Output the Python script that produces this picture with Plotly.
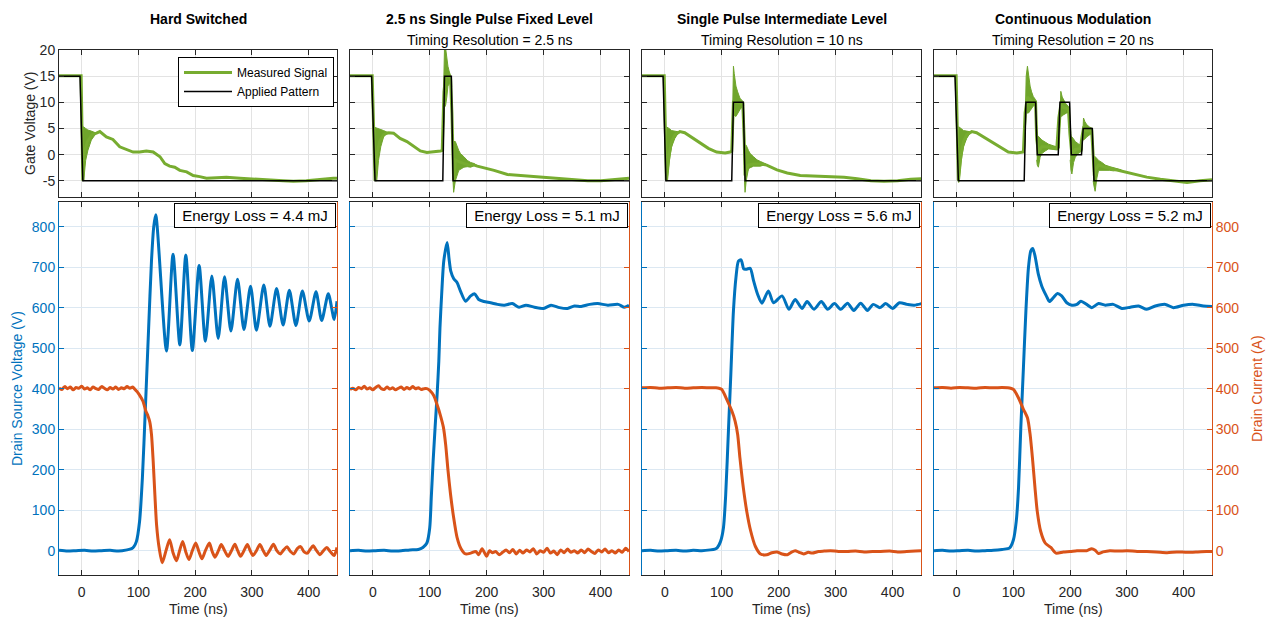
import plotly.graph_objects as go

W, H = 1275, 620
BLUE = '#0072BD'
ORANGE = '#D95319'
GREEN = '#77AC30'
GREEN_BAND = '#6FA52B'
DARK = '#262626'
GRID = '#e3e3e3'
GRID_B = '#dce8f2'
FONT = 'Liberation Sans, Arial, Helvetica, sans-serif'

# ---------------- axis settings / labels ----------------
time_range = [-40, 450]
gate_range = [-8, 20]
bottom_range = [-60, 860]
time_ticks = [0, 100, 200, 300, 400]
gate_ticks = [-5, 0, 5, 10, 15, 20]
gate_tick_labels = ['-5', '0', '5', '10', '15', '20']
bottom_ticks = [0, 100, 200, 300, 400, 500, 600, 700, 800]

titles = ['Hard Switched', '2.5 ns Single Pulse Fixed Level',
          'Single Pulse Intermediate Level', 'Continuous Modulation']
subtitles = ['', 'Timing Resolution = 2.5 ns', 'Timing Resolution = 10 ns',
             'Timing Resolution = 20 ns']
energy_loss = [4.4, 5.1, 5.6, 5.2]

# ---------------- gate voltage: applied pattern ----------------
app1_t = [-40, -3, 2, 450]
app1_v = [15, 15, -5, -5]
app2_t = [-40, -2, 4, 123, 126, 138, 141, 450]
app2_v = [15, 15, -5, -5, 15, 15, -5, -5]
app3_t = [-40, -3, 2, 117.6, 120.6, 138, 141, 450]
app3_v = [15, 15, -5, -5, 10, 10, -5, -5]
app4_t = [-40, -3, 3, 119, 122, 139, 142, 179, 182, 199, 202, 220, 223, 239, 242, 450]
app4_v = [15, 15, -5, -5, 10, 10, 0, 0, 10, 10, 0, 0, 5, 5, -5, -5]

# ---------------- gate voltage: measured signal ----------------
meas1_t = [-40, -20, -1, 2, 3.5, 10, 18, 26, 32, 43.5, 55, 67, 79, 90.6, 102, 114, 126, 138,
           146.5, 155, 164, 173, 185, 196.5, 208, 220, 238, 255, 279, 302, 326, 355, 373, 396,
           420, 443.5, 450]
meas1_v = [15.1, 15.1, 15.1, -5, 0, 2.5, 3.8, 4.1, 4.4, 3.4, 2.9, 1.5, 1.0, 0.5, 0.5, 0.7, 0.5,
           -0.4, -1.7, -2.2, -2.4, -3.0, -3.3, -4.0, -4.2, -4.5, -4.4, -4.3, -4.5, -4.6, -4.8,
           -5.0, -5.1, -5.0, -4.7, -4.5, -4.5]
meas2_t = [-40, -20, -1, 4, 7, 12, 19, 25, 28, 36.5, 48, 60, 72, 83.5, 95, 107, 119, 122,
           125, 128, 132, 136.5, 139, 142, 145, 150, 156, 163, 170, 178, 183.5, 195, 213,
           236.5, 260, 283.5, 307, 330.6, 354, 377.6, 401, 425, 450]
meas2_v = [15.1, 15.1, 15.1, -5, 0, 2.5, 3.8, 4.1, 4.2, 4.1, 3.1, 2.5, 1.5, 0.7, 0.4, 0.5, 0.7,
           0.8, 12, 15, 15, 14.5, 8, -5, -1, -1.3, -1.6, -1.8, -2.0, -2.0, -2.2, -2.5, -3.0,
           -3.8, -4.0, -4.2, -4.3, -4.6, -4.8, -5.0, -5.0, -4.7, -4.5]
meas3_t = [-40, -20, -1, 3, 7.6, 12, 17.6, 23.5, 26.5, 35, 47, 62, 76.5, 91, 106, 114.7,
           117.6, 120.6, 125, 132, 137, 139.5, 141, 147, 156, 168, 179, 197, 215, 238, 268,
           291, 315, 338, 362, 385, 409, 432, 451]
meas3_v = [15.1, 15.1, 15.1, -5, 0, 2.5, 3.8, 4.2, 4.4, 4.2, 3.3, 2.3, 1.2, 0.5, 0.3, 0.5,
           0.7, 10, 10, 9.8, 9.7, 3, -4, -2, -1.8, -1.8, -2.0, -2.9, -3.5, -4.0, -4.1, -4.2,
           -4.3, -4.6, -5.0, -5.1, -5.0, -4.7, -4.6]
meas4_t = [-40, -20, -1, 3, 7.6, 12, 17.6, 23.5, 26.5, 35, 47, 62, 76.5, 91, 106, 117.6,
           120.6, 124.7, 129.4, 135, 139, 141, 144, 150, 162, 176.5, 180, 183.5, 188, 197,
           199.5, 201.5, 203, 209, 218, 221, 223.5, 229.4, 238, 240.5, 242.5, 244, 250, 262,
           276.5, 288, 312, 335, 359, 382, 406, 429, 450]
meas4_v = [15.1, 15.1, 15.1, -5, 0, 2.5, 3.8, 4.2, 4.4, 4.2, 3.4, 2.5, 1.4, 0.5, 0.3, 0.5,
           8, 11, 10.5, 10, 10, 3, 0.5, 1.5, 1.5, 1.2, 7, 9.5, 9, 8.7, 4, 0.5, 0, 1, 1.2, 3.5,
           5, 4.5, 4.5, 0, -4, -3, -2, -2.4, -2.8, -3.0, -3.7, -4.3, -4.7, -5.0, -5.3, -5.0,
           -4.8]

# ---------------- gate ringing envelopes (upper / lower) ----------------
ring1a_t = [2, 3.5, 7, 11, 17, 23, 26]
ring1a_hi = [5.3, 5.3, 5.0, 4.7, 4.5, 4.3, 4.1]
ring1a_lo = [-5, -5, -1.1, 0.85, 2.8, 3.7, 4.1]

ring2a_t = [4, 7, 10, 14, 19, 25, 28]
ring2a_hi = [5.2, 5.1, 5.0, 4.8, 4.6, 4.3, 4.2]
ring2a_lo = [-5, -5, -1.1, 1.5, 3.4, 4.1, 4.2]
ring2b_t = [122, 124, 126, 128, 130, 132, 134, 136.5, 138.5]
ring2b_hi = [0.8, 12, 20.5, 20.3, 18, 16.9, 16, 15.3, 14.5]
ring2b_lo = [0.8, 5, 9, 9.5, 11, 13.1, 13.5, 13.7, 13]
ring2c_t = [141, 142, 145, 151, 154, 160, 166, 172, 178, 182]
ring2c_hi = [2.5, 2.5, 2.5, 0.8, 0.2, -0.4, -1.1, -1.5, -1.7, -2.0]
ring2c_lo = [-5, -7.2, -5, -3, -2.7, -2.4, -2.3, -2.4, -2.1, -2.0]

ring3a_t = [3, 4, 7.6, 12, 17.6, 23.5, 26.5]
ring3a_hi = [5.3, 5.2, 5.0, 4.6, 4.5, 4.3, 4.3]
ring3a_lo = [-5, -5, -1.4, 1.5, 3.1, 4.1, 4.3]
ring3b_t = [118, 119.5, 120.6, 122, 125, 128, 132, 137, 138.5]
ring3b_hi = [0.7, 12, 16.9, 15.5, 13.1, 12, 10.8, 10.2, 10]
ring3b_lo = [0.7, 5, 7.9, 7.5, 7.3, 7.8, 8.6, 9.3, 9.3]
ring3c_t = [140, 141, 143, 147, 150, 156, 162, 168, 173.5, 178]
ring3c_hi = [1.8, 1.8, 1.8, 0.8, 0.2, -0.4, -1.0, -1.3, -1.6, -1.8]
ring3c_lo = [-5, -7.2, -5, -2.7, -2.5, -2.2, -2.2, -2.2, -2.0, -1.8]

ring4a_t = [3, 4, 7.6, 12, 17.6, 23.5, 26.5]
ring4a_hi = [5.3, 5.3, 5.0, 4.6, 4.5, 4.3, 4.3]
ring4a_lo = [-5.3, -5.3, -1.4, 1.5, 3.1, 4.1, 4.3]
ring4b_t = [119.5, 121, 122.5, 124.7, 127, 129.4, 132, 135, 139, 140]
ring4b_hi = [0.5, 10, 15, 16.9, 14.5, 13.1, 12, 11.1, 10.5, 10.3]
ring4b_lo = [0.5, 5, 7.9, 7.9, 8, 8.4, 8.9, 9.3, 9.5, 9.5]
ring4c_t = [141, 142, 144, 147, 150, 156, 162, 170, 176.5, 179.5]
ring4c_hi = [3.7, 3.7, 3.5, 3.2, 2.8, 2.4, 2.0, 1.7, 1.5, 1.4]
ring4c_lo = [-1, -2, -2.4, -0.5, 0.2, 0.7, 1.1, 1.0, 0.9, 1.0]
ring4d_t = [180.5, 182, 183.5, 186, 188, 192, 197, 199]
ring4d_hi = [1.2, 9, 12.1, 11, 10.5, 9.8, 9.2, 9]
ring4d_lo = [1.2, 5, 7.3, 7.4, 7.6, 7.9, 8.2, 8.3]
ring4e_t = [200, 201.5, 203, 206, 209, 214, 218, 220.5]
ring4e_hi = [3.4, 3.4, 3.4, 3.0, 2.5, 2.1, 1.8, 1.8]
ring4e_lo = [-1, -3, -3.7, -1.5, -0.5, 0.2, 0.5, 0.5]
ring4f_t = [221, 222, 223.5, 226, 229.4, 234, 238, 239.5]
ring4f_hi = [0.8, 5, 7.0, 6.3, 5.7, 5.3, 5.0, 5.0]
ring4f_lo = [0.8, 2.7, 2.7, 3.0, 3.4, 3.8, 4.1, 4.2]
ring4g_t = [240.5, 242, 244, 247, 250, 256, 262, 270, 276.5, 284, 290]
ring4g_hi = [-0.4, -0.4, -0.4, -0.7, -1.1, -1.5, -2.0, -2.3, -2.5, -2.7, -2.9]
ring4g_lo = [-5, -6, -7.0, -4.5, -3.0, -3.0, -3.0, -3.0, -3.1, -3.0, -2.9]

# ---------------- drain-source voltage ----------------
vds1_t = [-40, -25, -10, 5, 20, 35, 50, 65, 80, 88, 92, 96.5, 102, 107, 112, 118, 123, 127,
          130.6, 149.4, 161, 173, 183.5, 195, 207, 218, 229.4, 240.6, 251.8, 263, 274.7, 286,
          297.6, 308, 321, 331.8, 343.5, 355, 366, 377.6, 389, 401, 413, 423, 434.7, 445, 450]
vds1_v = [1, -1, 0, 1, -1, 0, 1, -1, 2, 5, 10, 23, 72, 180, 344, 550, 715, 800, 829, 493, 732,
          508, 730, 494, 704, 517, 678, 524, 676, 542, 670, 546, 653, 544, 656, 554, 647, 557,
          643, 556, 641, 567, 639, 568, 634, 571, 616]
vds2_t = [-40, -25, -10, 5, 20, 35, 50, 65, 80, 88, 95, 100, 103, 106, 109.4, 113, 116, 118,
          121, 124.7, 130.6, 134, 137, 142, 148, 154, 163, 172, 179, 186, 195, 207, 219, 231,
          245, 257, 269, 284, 300, 313, 328, 342, 354, 366, 381, 395, 413, 431, 442, 450]
vds2_v = [0, 1, -1, 0, 1, -1, 0, 2, 3, 8, 19, 56, 138, 221, 303, 386, 468, 550, 633, 715, 761,
          720, 690, 672, 662, 641, 616, 629, 634, 620, 615, 612, 608, 606, 610, 601, 606, 601,
          598, 606, 600, 598, 604, 603, 608, 610, 606, 608, 601, 606]
vds3_t = [-40, -25, -10, 5, 20, 35, 50, 65, 80, 88, 92, 98, 103, 107, 112, 116, 120.6, 125,
          129.4, 134, 139, 144, 150, 156, 163, 170.6, 182, 191, 206, 218, 229, 241, 250, 262,
          275, 286, 298, 309, 321, 332, 344, 356, 366, 378, 388, 400, 412, 426, 438, 451]
vds3_v = [0, 1, -1, 0, 1, -1, 1, 0, 2, 4, 7, 23, 56, 138, 303, 435, 592, 674, 715, 718, 695,
          695, 697, 666, 633, 611, 641, 612, 629, 596, 620, 598, 615, 596, 615, 596, 610, 596,
          611, 593, 611, 593, 608, 600, 610, 598, 612, 608, 606, 610]
vds4_t = [-40, -25, -10, 5, 20, 35, 50, 65, 80, 90, 94, 100, 105, 109, 113, 117.6, 122, 126.5,
          130.6, 134, 138, 144, 150, 158, 163.5, 170.6, 177.6, 185, 194, 203, 212, 219, 229,
          238, 250, 262, 276, 291, 306, 320.6, 335, 350, 368, 382, 400, 418, 435, 450]
vds4_v = [0, 1, -1, 0, 1, -1, 0, 1, 3, 5, 8, 27, 73, 155, 303, 451, 592, 699, 740, 746, 728,
          682, 653, 629, 615, 625, 635, 629, 612, 606, 608, 616, 608, 600, 610, 606, 608, 598,
          601, 604, 596, 604, 608, 600, 606, 608, 604, 603]

# ---------------- drain current ----------------
id1_t = [-40, -35, -30, -25, -20, -15, -10, -5, 0, 5, 10, 15, 20, 25, 30, 35, 40, 45, 50, 55,
         60, 65, 70, 75, 80, 85, 90, 94, 98, 102, 108, 113, 117, 120, 123, 126, 129, 132,
         136.5, 142, 149, 155, 161, 167, 172.5, 178, 183.5, 189, 195, 201, 206.5, 212, 218,
         225, 230, 235, 241, 246, 252, 258, 264, 270, 275, 280, 286, 292, 297, 302, 308, 314,
         320, 325, 331, 338, 344, 350, 356, 362, 368, 374, 380, 386, 392, 398, 403, 408, 414,
         420, 426, 432, 438, 445, 450]
id1_v = [402, 398, 405, 400, 404, 397, 403, 401, 406, 399, 402, 397, 404, 400, 398, 405, 401,
         397, 403, 399, 404, 398, 402, 400, 405, 401, 404, 398, 392, 384, 369, 345, 332, 318,
         287, 221, 138, 64, 7, -30, 2, 27, -5, -25, 0, 23, -3, -22, 0, 19, -2, -20, 0, 19, -2,
         -16, 0, 15, 0, -14, 0, 16, 0, -14, 0, 15, 0, -12, 0, 15, 0, -12, 0, 16, 0, -8, 2, 10,
         -2, -8, 5, 10, -3, -6, 4, 12, 0, -10, 0, 8, -2, -12, 8]
id2_t = [-40, -35, -30, -25, -20, -15, -10, -5, 0, 5, 10, 15, 20, 25, 30, 35, 40, 45, 50, 55,
         60, 65, 70, 75, 80, 85, 90, 95, 100, 107, 113, 119, 124, 128, 132, 136.5, 142, 148,
         155, 163, 172, 181, 186, 192, 200, 205, 210, 216, 222, 228, 234, 240, 246, 252, 258,
         264, 270, 276, 282, 288, 294, 300, 306, 312, 318, 324, 330, 336, 342, 348, 354, 360,
         366, 372, 378, 384, 390, 396, 402, 408, 414, 420, 426, 432, 438, 444, 450]
id2_v = [398, 401, 397, 403, 400, 406, 399, 402, 397, 403, 407, 400, 398, 404, 399, 402, 397,
         401, 404, 398, 403, 399, 405, 400, 402, 398, 400, 400, 396, 383, 360, 333, 305, 262,
         200, 140, 82, 33, 5, -8, -6, -2, -10, 5, -14, 0, -5, -2, -10, -4, 2, -5, 3, -8, 1, -6,
         2, -3, 5, -8, 0, -4, 6, -6, -1, -10, 2, -5, 4, -4, 0, -6, 2, -5, 4, -2, -7, 2, -3, 4,
         -5, 0, -6, 2, -4, 6, -2]
id3_t = [-40, -25, -10, 5, 20, 35, 50, 65, 80, 90, 95, 100, 109, 118, 123.5, 128, 132, 138,
         144, 151, 159, 168, 179, 188, 197, 206, 215, 222, 229, 236, 244, 252, 259, 270, 280,
         291, 305, 321, 335, 350, 365, 379, 395, 409, 425, 440, 451]
id3_v = [402, 403, 401, 402, 403, 401, 402, 403, 402, 402, 401, 398, 373, 344, 320, 287, 229,
         155, 97, 48, 11, -8, -10, -5, -3, -8, -10, -4, 0, -4, -8, -4, -6, -2, -1, 0, -2, -2,
         -1, -3, -2, -2, -1, -3, -2, -1, 0]
id4_t = [-40, -25, -10, 5, 20, 35, 50, 65, 80, 90, 95, 100, 109, 117.6, 124.7, 129.4, 134,
         138, 142, 148, 156, 162, 166, 175, 188, 200, 212, 229, 238, 244, 250, 258, 270, 285,
         300, 318, 335, 352, 371, 388, 406, 425, 440, 450]
id4_v = [402, 403, 401, 403, 402, 401, 403, 402, 403, 402, 401, 398, 377, 349, 328, 287, 221,
         155, 97, 48, 19, 12, 8, -6, -3, -2, 0, 0, 5, 1, -7, -3, 0, -1, 0, -2, -2, -3, -5, -3,
         -4, -3, -2, -2]

app_t = [app1_t, app2_t, app3_t, app4_t]
app_v = [app1_v, app2_v, app3_v, app4_v]
meas_t = [meas1_t, meas2_t, meas3_t, meas4_t]
meas_v = [meas1_v, meas2_v, meas3_v, meas4_v]
rings = [
    [(ring1a_t, ring1a_hi, ring1a_lo)],
    [(ring2a_t, ring2a_hi, ring2a_lo), (ring2b_t, ring2b_hi, ring2b_lo),
     (ring2c_t, ring2c_hi, ring2c_lo)],
    [(ring3a_t, ring3a_hi, ring3a_lo), (ring3b_t, ring3b_hi, ring3b_lo),
     (ring3c_t, ring3c_hi, ring3c_lo)],
    [(ring4a_t, ring4a_hi, ring4a_lo), (ring4b_t, ring4b_hi, ring4b_lo),
     (ring4c_t, ring4c_hi, ring4c_lo), (ring4d_t, ring4d_hi, ring4d_lo),
     (ring4e_t, ring4e_hi, ring4e_lo), (ring4f_t, ring4f_hi, ring4f_lo),
     (ring4g_t, ring4g_hi, ring4g_lo)],
]
vds_t = [vds1_t, vds2_t, vds3_t, vds4_t]
vds_v = [vds1_v, vds2_v, vds3_v, vds4_v]
id_t = [id1_t, id2_t, id3_t, id4_t]
id_v = [id1_v, id2_v, id3_v, id4_v]

# ---------------- layout geometry (pixels) ----------------
col_px = [(59, 337), (350, 629), (642, 921), (934, 1212)]
top_py = (50, 196.5)
bot_py = (202.3, 575)


def fx(px):
    return px / W


def fy(py):
    return 1 - py / H


fig = go.Figure()

for i in range(4):
    xa, ya = f'x{i + 1}', f'y{i + 1}'
    for bt, bh, bl in rings[i]:
        fig.add_trace(go.Scatter(x=bt + bt[::-1], y=bh + bl[::-1], mode='lines', fill='toself',
                                 fillcolor=GREEN_BAND, line=dict(color=GREEN_BAND, width=1),
                                 hoverinfo='skip', showlegend=False, xaxis=xa, yaxis=ya))
    fig.add_trace(go.Scatter(x=meas_t[i], y=meas_v[i], mode='lines', name='Measured Signal',
                             line=dict(color=GREEN, width=3), showlegend=(i == 0),
                             legendrank=1, xaxis=xa, yaxis=ya))
    fig.add_trace(go.Scatter(x=app_t[i], y=app_v[i], mode='lines', name='Applied Pattern',
                             line=dict(color='black', width=1.5), showlegend=(i == 0),
                             legendrank=2, xaxis=xa, yaxis=ya))
    xb, yl, yr = f'x{i + 5}', f'y{i + 5}', f'y{i + 9}'
    fig.add_trace(go.Scatter(x=vds_t[i], y=vds_v[i], mode='lines',
                             line=dict(color=BLUE, width=3, shape='spline', smoothing=0.7),
                             showlegend=False, xaxis=xb, yaxis=yl))
    fig.add_trace(go.Scatter(x=id_t[i], y=id_v[i], mode='lines',
                             line=dict(color=ORANGE, width=3, shape='spline', smoothing=0.7),
                             showlegend=False, xaxis=xb, yaxis=yr))

layout = dict(
    template='none',
    width=W, height=H, margin=dict(l=0, r=0, t=0, b=0, autoexpand=False),
    paper_bgcolor='white', plot_bgcolor='white',
    font=dict(family=FONT, size=14, color=DARK),
    showlegend=True,
    legend=dict(x=fx(334), xanchor='right', y=fy(57), yanchor='top',
                bgcolor='white', bordercolor='black', borderwidth=1, itemwidth=48,
                font=dict(size=12, color='black'), tracegroupgap=0),
)
common_x = dict(range=time_range, tickvals=time_ticks, ticks='inside', ticklen=5,
                tickcolor=DARK, showline=True, linecolor=DARK, linewidth=1, mirror='ticks',
                showgrid=True, gridcolor=GRID, gridwidth=1, zeroline=False, automargin=False)
for i, (x0, x1) in enumerate(col_px):
    n = i + 1
    layout[f'xaxis{n}'] = dict(common_x, domain=[fx(x0), fx(x1)], anchor=f'y{n}',
                               showticklabels=False)
    layout[f'yaxis{n}'] = dict(domain=[fy(top_py[1]), fy(top_py[0])], range=gate_range,
                               anchor=f'x{n}', tickvals=gate_ticks, ticktext=gate_tick_labels,
                               showticklabels=(i == 0),
                               ticks='inside', ticklen=5, tickcolor=DARK, showline=True,
                               linecolor=DARK, linewidth=1, mirror='ticks', showgrid=True,
                               gridcolor=GRID, gridwidth=1, zeroline=False, automargin=False,
                               tickfont=dict(size=14, color=DARK))
    layout[f'xaxis{n + 4}'] = dict(common_x, domain=[fx(x0), fx(x1)], anchor=f'y{n + 4}',
                                   showticklabels=True, ticklabelstandoff=4,
                                   tickfont=dict(size=14, color=DARK))
    layout[f'yaxis{n + 4}'] = dict(domain=[fy(bot_py[1]), fy(bot_py[0])], range=bottom_range,
                                   anchor=f'x{n + 4}', tickvals=bottom_ticks,
                                   showticklabels=(i == 0), ticks='inside', ticklen=5,
                                   tickcolor=BLUE, showline=True, linecolor=BLUE, linewidth=1,
                                   showgrid=True, gridcolor=GRID_B, gridwidth=1,
                                   zeroline=False, automargin=False,
                                   tickfont=dict(size=14, color=BLUE))
    layout[f'yaxis{n + 8}'] = dict(overlaying=f'y{n + 4}', side='right', anchor=f'x{n + 4}',
                                   range=bottom_range, tickvals=bottom_ticks,
                                   showticklabels=(i == 3), ticks='inside', ticklen=5,
                                   tickcolor=ORANGE, showline=True, linecolor=ORANGE,
                                   linewidth=1, showgrid=False, zeroline=False,
                                   automargin=False, tickfont=dict(size=14, color=ORANGE))

annotations = []
common_a = dict(xref='paper', yref='paper', showarrow=False, xanchor='center',
                yanchor='middle')
for i, (x0, x1) in enumerate(col_px):
    cx = fx((x0 + x1) / 2)
    annotations.append(dict(common_a, text=f'<b>{titles[i]}</b>', x=cx, y=fy(19),
                            font=dict(size=14, color='black')))
    if subtitles[i]:
        annotations.append(dict(common_a, text=subtitles[i], x=cx, y=fy(39.5),
                                font=dict(size=14, color='black')))
    annotations.append(dict(common_a, text='Time (ns)', x=cx, y=fy(609),
                            font=dict(size=14, color=DARK)))
    annotations.append(dict(xref='paper', yref='paper', showarrow=False,
                            text=f'Energy Loss = {energy_loss[i]} mJ', x=fx(x1 - 1.5),
                            y=fy(202.5), xanchor='right', yanchor='top', width=156,
                            height=19, borderpad=2, bordercolor='black', borderwidth=1,
                            bgcolor='white', font=dict(size=15, color='black')))
annotations.append(dict(common_a, text='Gate Voltage (V)', x=fx(30), y=fy(123), textangle=-90,
                        font=dict(size=14, color=DARK)))
annotations.append(dict(common_a, text='Drain Source Voltage (V)', x=fx(17), y=fy(389),
                        textangle=-90, font=dict(size=14, color=BLUE)))
annotations.append(dict(common_a, text='Drain Current (A)', x=fx(1257), y=fy(389),
                        textangle=-90, font=dict(size=14, color=ORANGE)))
layout['annotations'] = annotations

fig.update_layout(**layout)
fig.write_html('out.html')
